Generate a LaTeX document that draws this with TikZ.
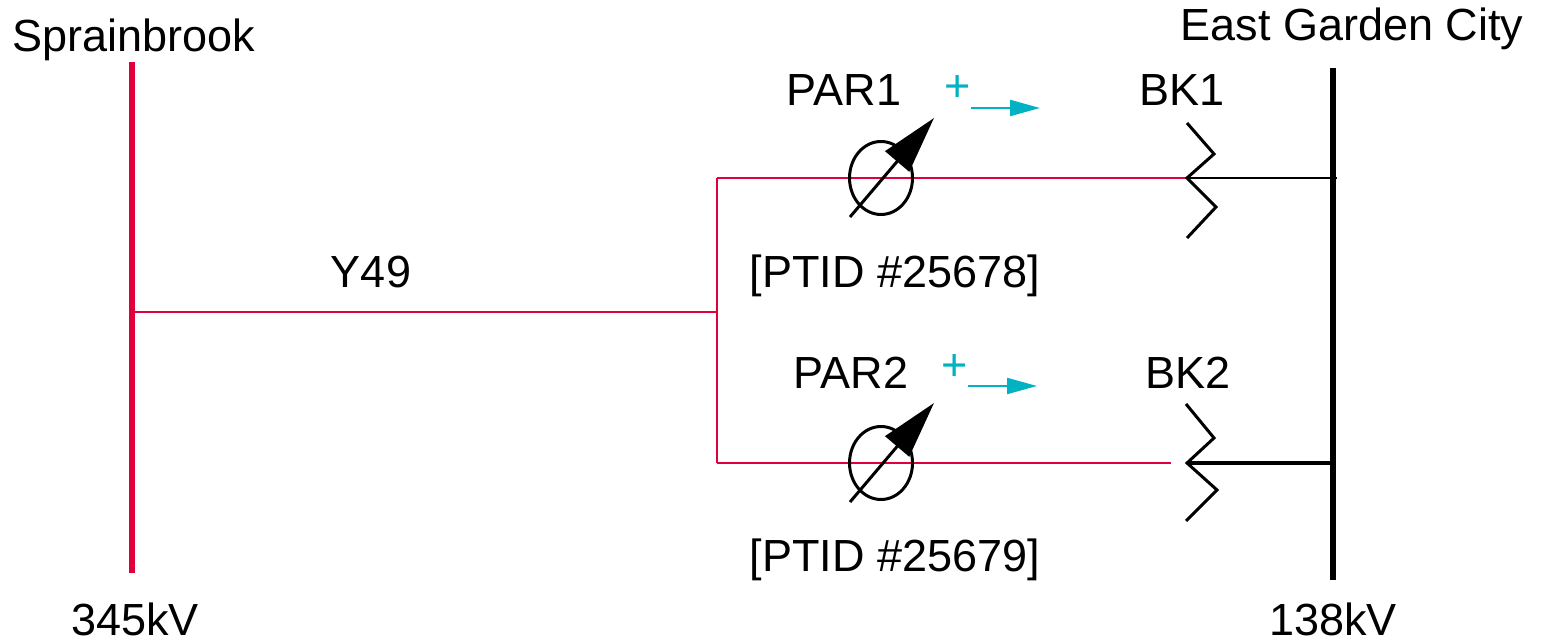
\documentclass[tikz,border=0pt]{standalone}
\usepackage{fontspec}
\setmainfont{Liberation Sans}
\usepackage{tikz}
\usetikzlibrary{arrows.meta}

\definecolor{busred}{HTML}{E2003C}
\definecolor{flowcyan}{HTML}{00B2C2}

\begin{document}
\begin{tikzpicture}[x=0.01cm, y=-0.01cm,
        lbl/.style={font={\fontsize{12.8}{15}\selectfont}, black, anchor=base, inner sep=0pt},
        plus/.style={font={\fontsize{12.8}{15}\selectfont}, flowcyan, anchor=base, inner sep=0pt},
        brk/.style={black, line width=0.85pt, line join=miter},
        flow/.style={flowcyan, line width=0.6pt, -{Triangle[length=0.3cm, width=0.16cm]}},
        phasearrow/.style={black, line width=0.85pt, -{Triangle[length=0.57cm, width=0.31cm]}}]
        \useasboundingbox (0,0) rectangle (1546,643);

        % buses
        \coordinate (sbtop) at (132,62);
        \coordinate (sbbot) at (132,573);
        \coordinate (egtop) at (1333,68);
        \coordinate (egbot) at (1333,580);
        \draw[busred, line width=1.45pt] (sbtop) -- (sbbot);
        \draw[black, line width=1.7pt] (egtop) -- (egbot);

        \node[lbl] (sb) at (134,52) {Sprainbrook};
        \node[lbl] (eg) at (1352,41) {East Garden City};
        \node[lbl] (sbkv) at (135,635) {345kV};
        \node[lbl] (egkv) at (1333,635) {138kV};

        % Y49
        \coordinate (y49a) at (132,312);
        \coordinate (y49b) at (717,312);
        \coordinate (jtop) at (717,178);
        \coordinate (jbot) at (717,463);
        \draw[busred, line width=0.4pt] (y49a) -- (y49b);
        \draw[busred, line width=0.6pt] (jtop) -- (jbot);
        \node[lbl] (y49) at (371,288) {Y49};

        % upper branch
        \coordinate (bk1c) at (1187,178);
        \coordinate (bus1) at (1337,178);
        \draw[busred, line width=0.6pt] (jtop) -- (bk1c);
        \draw[black, line width=0.35pt] (bk1c) -- (bus1);
        \draw[brk] (1187,123) -- (1214,154) -- (bk1c) -- (1216,207) -- (1187,238);
        \draw[black, line width=0.85pt] (881,178) ellipse [x radius=31.5, y radius=36.5];
        \coordinate (par1a) at (850,217);
        \coordinate (par1b) at (934,118);
        \draw[phasearrow] (par1a) -- (par1b);
        \node[plus] (plus1) at (958,102) {+};
        \coordinate (fl1a) at (971,108);
        \coordinate (fl1b) at (1040,108);
        \draw[flow] (fl1a) -- (fl1b);
        \node[lbl] (par1) at (844,106) {PAR1};
        \node[lbl] (bk1) at (1182,106) {BK1};
        \node[lbl] (ptid1) at (895,288) {[PTID \#25678]};

        % lower branch
        \coordinate (red2) at (1171,463);
        \coordinate (bk2c) at (1187,463);
        \coordinate (bus2) at (1330,463);
        \draw[busred, line width=0.6pt] (jbot) -- (red2);
        \draw[black, line width=0.9pt] (bk2c) -- (bus2);
        \draw[brk] (1186,404) -- (1214,438) -- (bk2c) -- (1217,490) -- (1186,521);
        \draw[black, line width=0.85pt] (881,463) ellipse [x radius=31.5, y radius=36.5];
        \coordinate (par2a) at (850,502);
        \coordinate (par2b) at (934,403);
        \draw[phasearrow] (par2a) -- (par2b);
        \node[plus] (plus2) at (955,380) {+};
        \coordinate (fl2a) at (968,386);
        \coordinate (fl2b) at (1037,386);
        \draw[flow] (fl2a) -- (fl2b);
        \node[lbl] (par2) at (851,389) {PAR2};
        \node[lbl] (bk2) at (1188,389) {BK2};
        \node[lbl] (ptid2) at (895,571) {[PTID \#25679]};
\end{tikzpicture}
\end{document}
